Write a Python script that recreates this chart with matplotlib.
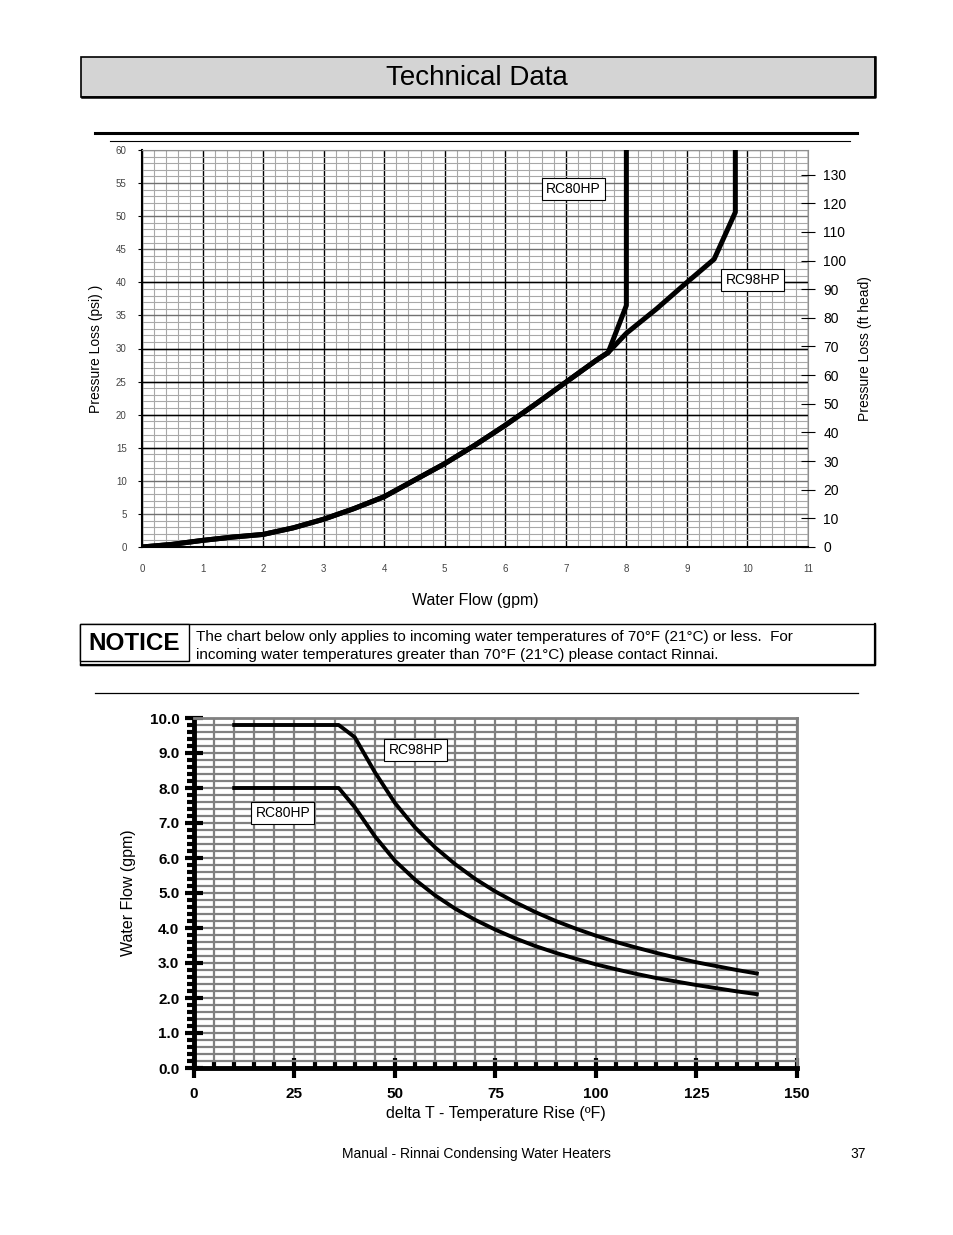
import matplotlib
matplotlib.use("Agg")
import matplotlib.pyplot as plt
from matplotlib.patches import Rectangle
import numpy as np

plt.rcParams["font.family"] = ["Liberation Sans", "DejaVu Sans"]

# --- pressure loss chart data (gpm -> psi) ---
flow_common = [0, 0.5, 1, 1.5, 2, 2.5, 3, 3.5, 4, 4.5, 5, 5.5, 6, 6.5, 7, 7.5, 7.7]
psi_common = [0, 0.4, 1.0, 1.5, 1.9, 2.9, 4.2, 5.8, 7.6, 10.1, 12.6, 15.4, 18.4, 21.6, 24.9, 28.2, 29.4]
rc80_flow = flow_common + [8.0, 8.0]
rc80_psi = psi_common + [36.5, 60]
rc98_flow = flow_common + [8.0, 8.5, 9.0, 9.45, 9.8, 9.8]
rc98_psi = psi_common + [32.3, 36.0, 40.0, 43.5, 50.6, 60]
psi_to_ft = 2.31
ft_ticks = list(range(0, 140, 10))
gpm_ticks = list(range(0, 12))
psi_ticks = list(range(0, 65, 5))

# --- flow vs temperature rise data ---
rise = [10, 36, 40, 45, 50, 55, 60, 65, 70, 75, 80, 85, 90, 95, 100, 105,
        110, 115, 120, 125, 130, 135, 140]
rc98_gpm = [9.8, 9.8, 9.45, 8.45, 7.57, 6.87, 6.3, 5.82, 5.4, 5.04, 4.73, 4.45,
            4.2, 3.98, 3.78, 3.6, 3.44, 3.29, 3.15, 3.02, 2.91, 2.8, 2.7]
rc80_gpm = [8.0, 8.0, 7.45, 6.62, 5.92, 5.38, 4.93, 4.55, 4.23, 3.95, 3.7, 3.48,
            3.29, 3.12, 2.96, 2.82, 2.69, 2.57, 2.47, 2.37, 2.28, 2.19, 2.11]
rise_ticks = [0, 25, 50, 75, 100, 125, 150]
gpm_ticks2 = np.arange(0, 10.5, 1.0)

W, H = 954, 1235
fig = plt.figure(figsize=(W / 100, H / 100), dpi=100)

# page decoration in pixel coordinates
page = fig.add_axes([0, 0, 1, 1])
page.set_xlim(0, W)
page.set_ylim(H, 0)
page.axis("off")
page.add_patch(Rectangle((81, 57), 794, 40, fc="#d4d4d4", ec="black", lw=1.2))
page.plot([82, 875, 875], [97, 97, 57], color="black", lw=1.8)
page.text(477, 78, "Technical Data", ha="center", va="center", fontsize=20)
page.plot([95, 857], [133, 133], color="black", lw=2.2)
page.plot([110, 850], [141, 141], color="black", lw=0.8)
page.add_patch(Rectangle((80, 624), 795, 41, fc="white", ec="black", lw=1.0))
page.plot([81, 875, 875], [665, 665, 624], color="black", lw=1.6)
page.add_patch(Rectangle((80, 624), 109, 37, fc="white", ec="black", lw=1.0))
page.text(134, 643, "NOTICE", ha="center", va="center", fontsize=17.5, fontweight="bold")
page.text(196, 637, "The chart below only applies to incoming water temperatures of 70°F (21°C) or less.  For",
          ha="left", va="center", fontsize=11)
page.text(196, 655, "incoming water temperatures greater than 70°F (21°C) please contact Rinnai.",
          ha="left", va="center", fontsize=11)
page.plot([95, 858], [693, 693], color="black", lw=0.9)
page.text(476, 1154, "Manual - Rinnai Condensing Water Heaters", ha="center", va="center", fontsize=10)
page.text(858, 1154, "37", ha="center", va="center", fontsize=10)

# --- top chart ---
ax = fig.add_axes([142 / W, 1 - 547 / H, 666 / W, 397 / H])
ax.set_xlim(0, 11)
ax.set_ylim(0, 60)
ax.set_xticks(gpm_ticks)
ax.set_xticks(np.arange(0, 11.01, 0.2), minor=True)
ax.set_yticks(psi_ticks)
ax.set_yticks(np.arange(0, 61, 1), minor=True)
ax.grid(which="minor", color="#a8a8a8", lw=0.8)
ax.grid(which="major", axis="x", color="black", lw=1.0)
ax.grid(which="major", axis="y", color="#707070", lw=1.0)
for yv in [15, 20, 25, 30, 40]:
    ax.axhline(yv, color="black", lw=1.0, zorder=1)
ax.set_axisbelow(True)
ax.tick_params(which="minor", length=0)
ax.tick_params(axis="y", length=3, labelsize=7, labelcolor="#444", pad=8)
ax.tick_params(axis="x", length=0, labelsize=7, labelcolor="#444", pad=12)
for s in ["left", "bottom"]:
    ax.spines[s].set_linewidth(1.5)
for s in ["top", "right"]:
    ax.spines[s].set_color("#909090")
    ax.spines[s].set_linewidth(0.8)
ax.plot(rc80_flow, rc80_psi, color="black", lw=3.6, solid_joinstyle="round", zorder=3)
ax.plot(rc98_flow, rc98_psi, color="black", lw=3.6, solid_joinstyle="round", zorder=3)
box = dict(boxstyle="square,pad=0.3", fc="white", ec="black", lw=0.8)
ax.text(7.12, 54.1, "RC80HP", ha="center", va="center", fontsize=10, bbox=box, zorder=4)
ax.text(10.09, 40.35, "RC98HP", ha="center", va="center", fontsize=10, bbox=box, zorder=4)
ax.set_ylabel("Pressure Loss (psi) )", fontsize=10, labelpad=9)
ax.set_xlabel("Water Flow (gpm)", fontsize=11.5, labelpad=14)

ax2 = ax.twinx()
ax2.set_ylim(0, 60 * psi_to_ft)
ax2.set_yticks(ft_ticks)
ax2.tick_params(axis="y", direction="inout", length=10, width=0.8, labelsize=10, pad=6)
for s in ax2.spines.values():
    s.set_visible(False)
ax2.set_ylabel("Pressure Loss (ft head)", fontsize=10, labelpad=8)

# --- bottom chart ---
bx = fig.add_axes([194 / W, 1 - 1068 / H, 603 / W, 350 / H])
bx.set_xlim(0, 150)
bx.set_ylim(0, 10)
bx.set_xticks(rise_ticks)
bx.set_xticks(np.arange(0, 151, 5), minor=True)
bx.set_yticks(gpm_ticks2)
bx.set_yticks(np.arange(0, 10.01, 0.2), minor=True)
bx.set_yticklabels([f"{v:.1f}" for v in gpm_ticks2])
bx.grid(which="both", color="#808080", lw=1.6)
bx.set_axisbelow(True)
for s in ["left", "bottom"]:
    bx.spines[s].set_linewidth(3.5)
for s in ["top", "right"]:
    bx.spines[s].set_color("#808080")
    bx.spines[s].set_linewidth(2)
bx.tick_params(axis="x", which="major", direction="inout", length=15, width=3, labelsize=11, pad=6)
bx.tick_params(axis="x", which="minor", direction="in", length=5, width=3)
bx.tick_params(axis="y", which="major", direction="inout", length=13, width=3, labelsize=11, pad=4)
bx.tick_params(axis="y", which="minor", direction="out", length=5, width=3)
for lab in bx.get_xticklabels() + bx.get_yticklabels():
    lab.set_fontweight("bold")
bx.plot(rise, rc98_gpm, color="black", lw=2.8, solid_joinstyle="round")
bx.plot(rise, rc80_gpm, color="black", lw=2.8, solid_joinstyle="round")
bx.text(55.2, 9.09, "RC98HP", ha="center", va="center", fontsize=10, bbox=box, zorder=4)
bx.text(22.1, 7.29, "RC80HP", ha="center", va="center", fontsize=10, bbox=box, zorder=4)
bx.set_ylabel("Water Flow (gpm)", fontsize=11.5, labelpad=10)
bx.set_xlabel("delta T - Temperature Rise (ºF)", fontsize=11.5, labelpad=4)

fig.savefig("out.png", dpi=100)
